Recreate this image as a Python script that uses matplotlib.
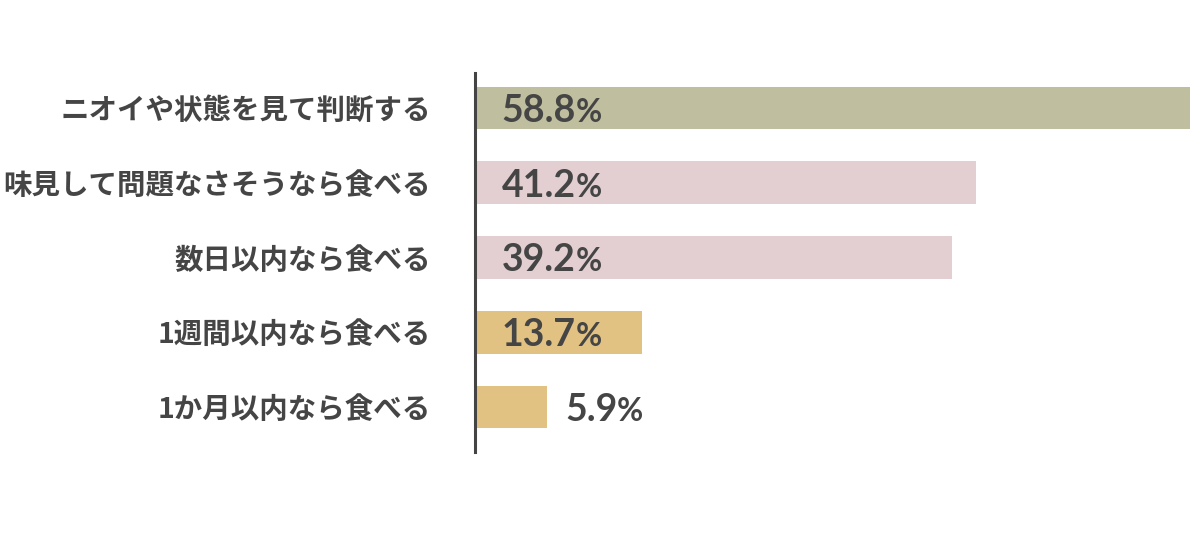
import matplotlib.pyplot as plt

categories = [
    "ニオイや状態を見て判断する",
    "味見して問題なさそうなら食べる",
    "数日以内なら食べる",
    "1週間以内なら食べる",
    "1か月以内なら食べる",
]
values = [58.8, 41.2, 39.2, 13.7, 5.9]
colors = ["#bfbe9e", "#e3cfd1", "#e3cfd1", "#e1c283", "#e1c283"]

text_color = "#454545"

fig = plt.figure(figsize=(12, 5.39), dpi=100)
ax = fig.add_axes([475 / 1200, 1 - 452 / 539, (1190 - 475) / 1200, (452 - 73) / 539])

y = list(range(len(categories)))
ax.barh(y, values, height=0.57, color=colors)

ax.set_xlim(0, max(values))
ax.set_ylim(4.6, -0.467)

for side in ["top", "right", "bottom"]:
    ax.spines[side].set_visible(False)
ax.spines["left"].set_color("#444444")
ax.spines["left"].set_linewidth(2.2)
ax.set_xticks([])
ax.set_yticks(y)
ax.set_yticklabels(categories, family=["Noto Sans CJK JP", "DejaVu Sans"],
                   fontweight="bold", fontsize=20.5, color=text_color)
ax.tick_params(axis="y", length=0, pad=32)

fig.canvas.draw()
renderer = fig.canvas.get_renderer()
for yi, v in zip(y, values):
    x = 2.2 if v > 10 else v + 1.5
    t = ax.annotate(f"{v:.1f}", xy=(x, yi), xytext=(0, -10), textcoords="offset points",
                    ha="left", va="baseline", fontsize=27, fontweight="bold",
                    family="Lato", color=text_color)
    bb = t.get_window_extent(renderer)
    base = ax.transData.transform((x, yi))[1] - 10 * fig.dpi / 72
    fig.text(bb.x1 / fig.bbox.width, base / fig.bbox.height, "%",
             ha="left", va="baseline", fontsize=23, fontweight="bold",
             family="Lato", color=text_color)

fig.savefig("out.png", dpi=100)
